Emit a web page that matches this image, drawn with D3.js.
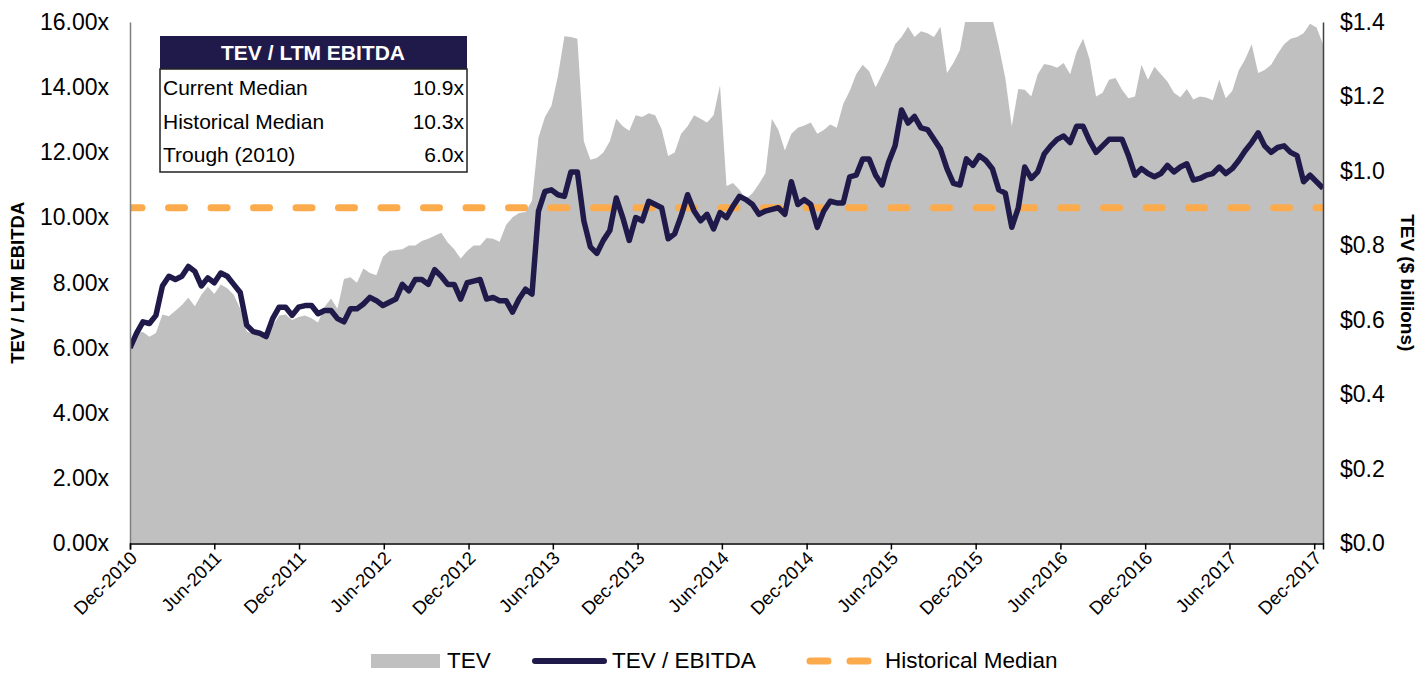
<!DOCTYPE html>
<html>
<head>
<script src="https://cdn.jsdelivr.net/npm/d3@7"></script>
<style>
  body { margin: 0; background: #fff; }
  svg { font-family: Arial, "Liberation Sans", sans-serif; }
</style>
</head>
<body>
<svg width="1420" height="674"></svg>
<script>
// data: one point every 14 days starting 1 Dec 2010
var startDate = new Date(2010, 11, 1);
var stepDays = 14;

var tickLabels = ["Dec-2010", "Jun-2011", "Dec-2011", "Jun-2012", "Dec-2012", "Jun-2013", "Dec-2013",
  "Jun-2014", "Dec-2014", "Jun-2015", "Dec-2015", "Jun-2016", "Dec-2016", "Jun-2017", "Dec-2017"];

var leftTicks = [0, 2, 4, 6, 8, 10, 12, 14, 16];
var rightTicks = [0, 0.2, 0.4, 0.6, 0.8, 1.0, 1.2, 1.4];

var historicalMedian = 10.3;

var tableRows = [
  ["Current Median", "10.9x"],
  ["Historical Median", "10.3x"],
  ["Trough (2010)", "6.0x"]
];

// TEV / LTM EBITDA (x)
var multiple = [
  6.0, 6.45, 6.8, 6.75, 7.0, 7.9, 8.2, 8.1, 8.2, 8.5,
  8.35, 7.9, 8.15, 8.0, 8.3, 8.2, 7.95, 7.7, 6.7, 6.5,
  6.45, 6.35, 6.9, 7.25, 7.25, 7.0, 7.25, 7.3, 7.3, 7.05,
  7.15, 7.15, 6.9, 6.8, 7.2, 7.2, 7.35, 7.55, 7.45, 7.3,
  7.4, 7.5, 7.95, 7.75, 8.1, 8.1, 7.95, 8.4, 8.2, 7.95,
  7.95, 7.5, 8.0, 8.05, 8.1, 7.5, 7.55, 7.45, 7.45, 7.1,
  7.5, 7.8, 7.65, 10.2, 10.8, 10.85, 10.7, 10.65, 11.4, 11.4,
  9.9, 9.1, 8.9, 9.3, 9.6, 10.6, 10.0, 9.3, 10.0, 9.9,
  10.5, 10.4, 10.3, 9.35, 9.5, 10.05, 10.7, 10.2, 9.9, 10.1,
  9.65, 10.15, 10.0, 10.35, 10.65, 10.55, 10.4, 10.1, 10.2, 10.25,
  10.3, 10.1, 11.1, 10.4, 10.55, 10.4, 9.7, 10.2, 10.5, 10.45,
  10.45, 11.25, 11.3, 11.8, 11.8, 11.3, 11.0, 11.7, 12.2, 13.3,
  12.9, 13.1, 12.75, 12.7, 12.4, 12.1, 11.5, 11.05, 11.0, 11.8,
  11.6, 11.9, 11.75, 11.5, 10.85, 10.75, 9.7, 10.3, 11.55, 11.2,
  11.4, 11.95, 12.2, 12.4, 12.5, 12.3, 12.8, 12.8, 12.35, 12.0,
  12.2, 12.4, 12.4, 12.4, 11.9, 11.3, 11.5, 11.35, 11.25, 11.35,
  11.6, 11.4, 11.55, 11.65, 11.15, 11.2, 11.3, 11.35, 11.55, 11.35,
  11.5, 11.75, 12.05, 12.3, 12.6, 12.2, 12.0, 12.15, 12.2, 12.0,
  11.9, 11.1, 11.3, 11.1, 10.9
];

// TEV ($ billions)
var tev = [
  0.53, 0.565, 0.568, 0.555, 0.565, 0.615, 0.61, 0.625, 0.64, 0.66,
  0.637, 0.668, 0.689, 0.67, 0.695, 0.685, 0.668, 0.63, 0.57, 0.562,
  0.556, 0.554, 0.585, 0.612, 0.615, 0.6, 0.608, 0.612, 0.605, 0.593,
  0.635, 0.658, 0.63, 0.71, 0.715, 0.7, 0.738, 0.726, 0.72, 0.77,
  0.785, 0.788, 0.79, 0.8, 0.8, 0.812, 0.818, 0.826, 0.834, 0.808,
  0.79, 0.765, 0.785, 0.8, 0.8, 0.82, 0.818, 0.81, 0.855, 0.876,
  0.887, 0.89, 0.92, 1.09, 1.145, 1.175, 1.255, 1.362, 1.36, 1.355,
  1.08, 1.03, 1.035, 1.05, 1.08, 1.14, 1.12, 1.108, 1.15, 1.145,
  1.155, 1.15, 1.112, 1.04, 1.05, 1.1, 1.12, 1.15, 1.14, 1.13,
  1.15, 1.23, 0.96, 0.968, 0.95, 0.925, 0.94, 0.965, 0.994, 1.14,
  1.11, 1.055, 1.1, 1.116, 1.122, 1.13, 1.1, 1.11, 1.125, 1.116,
  1.18, 1.215, 1.26, 1.285, 1.268, 1.225, 1.26, 1.295, 1.34, 1.36,
  1.387, 1.36, 1.375, 1.37, 1.36, 1.387, 1.263, 1.29, 1.325, 1.42,
  1.43, 1.43, 1.43, 1.41, 1.335, 1.25, 1.12, 1.22, 1.218, 1.2,
  1.26, 1.287, 1.284, 1.277, 1.29, 1.26, 1.32, 1.355, 1.3, 1.2,
  1.21, 1.245, 1.25, 1.218, 1.195, 1.2, 1.285, 1.245, 1.28, 1.26,
  1.24, 1.21, 1.198, 1.22, 1.192, 1.2, 1.197, 1.19, 1.245, 1.195,
  1.215, 1.27, 1.3, 1.34, 1.263, 1.271, 1.285, 1.315, 1.34, 1.355,
  1.36, 1.37, 1.395, 1.385, 1.34
];

var navy = "#1f1a4a";
var orange = "#fbaa4c";
var grey = "#c0c0c0";
var font = "Arial, 'Liberation Sans', sans-serif";

var svg = d3.select("svg");
var margin = { left: 130, right: 1323, top: 22, bottom: 543.5 };

var dates = multiple.map(function(d, i) { return d3.timeDay.offset(startDate, i * stepDays); });
var parseTick = d3.timeParse("%b-%Y");

var x = d3.scaleTime()
  .domain([dates[0], dates[dates.length - 1]])
  .range([margin.left, margin.right]);
var yLeft = d3.scaleLinear().domain([0, 16]).range([margin.bottom, margin.top]);
var yRight = d3.scaleLinear().domain([0, 1.4]).range([margin.bottom, margin.top]);

svg.append("clipPath").attr("id", "plot")
  .append("rect")
  .attr("x", margin.left).attr("y", margin.top)
  .attr("width", margin.right - margin.left)
  .attr("height", margin.bottom - margin.top);

var plot = svg.append("g").attr("clip-path", "url(#plot)");

// TEV area
plot.append("path")
  .datum(tev)
  .attr("fill", grey)
  .attr("d", d3.area()
    .x(function(d, i) { return x(dates[i]); })
    .y0(yRight(0))
    .y1(function(d) { return yRight(d); }));

// historical median
plot.append("line")
  .attr("x1", margin.left).attr("x2", margin.right)
  .attr("y1", yLeft(historicalMedian)).attr("y2", yLeft(historicalMedian))
  .attr("stroke", orange)
  .attr("stroke-width", 7)
  .attr("stroke-linecap", "round")
  .attr("stroke-dasharray", "16,26.5")
  .attr("stroke-dashoffset", 4);

// TEV / EBITDA line
plot.append("path")
  .datum(multiple)
  .attr("fill", "none")
  .attr("stroke", navy)
  .attr("stroke-width", 5.5)
  .attr("stroke-linejoin", "round")
  .attr("d", d3.line()
    .x(function(d, i) { return x(dates[i]); })
    .y(function(d) { return yLeft(d); }));

// axes
var leftAxis = svg.append("g")
  .attr("transform", "translate(" + margin.left + ",0)")
  .call(d3.axisLeft(yLeft).tickValues(leftTicks).tickSize(0).tickPadding(21)
    .tickFormat(function(d) { return d3.format(".2f")(d) + "x"; }));
leftAxis.select(".domain").attr("stroke", "#7f7f7f").attr("stroke-width", 1.5);

var rightAxis = svg.append("g")
  .attr("transform", "translate(" + margin.right + ",0)")
  .call(d3.axisRight(yRight).tickValues(rightTicks).tickSize(0).tickPadding(17)
    .tickFormat(function(d) { return "$" + d3.format(".1f")(d); }));
rightAxis.select(".domain").attr("stroke", "#404040").attr("stroke-width", 1.5);

svg.selectAll(".tick text").attr("font-size", 23).attr("fill", "#000")
  .style("font-family", font);

var bottomAxis = svg.append("g")
  .attr("transform", "translate(0," + margin.bottom + ")")
  .call(d3.axisBottom(x).tickValues(tickLabels.map(parseTick)).tickSize(6)
    .tickFormat(d3.timeFormat("%b-%Y")));
bottomAxis.select(".domain").attr("stroke", "#000").attr("stroke-width", 1.5);
bottomAxis.selectAll(".tick line").attr("stroke", "#000").attr("stroke-width", 1.5);
bottomAxis.selectAll(".tick text")
  .attr("font-size", 18.5)
  .attr("fill", "#000")
  .style("font-family", font)
  .attr("text-anchor", "end")
  .attr("transform", "translate(-4,4) rotate(-45)")
  .attr("x", 0).attr("y", 0).attr("dy", "0.9em").attr("dx", 0);

// axis titles
svg.append("text")
  .attr("transform", "translate(24," + ((margin.top + margin.bottom) / 2) + ") rotate(-90)")
  .attr("text-anchor", "middle")
  .attr("font-size", 18.5).attr("font-weight", "bold")
  .text("TEV / LTM EBITDA");

svg.append("text")
  .attr("transform", "translate(1401," + ((margin.top + margin.bottom) / 2) + ") rotate(90)")
  .attr("text-anchor", "middle")
  .attr("font-size", 19).attr("font-weight", "bold")
  .text("TEV ($ billions)");

// summary table
var table = svg.append("g").attr("transform", "translate(160,36)");
table.append("rect").attr("width", 307).attr("height", 33).attr("fill", navy);
table.append("text")
  .attr("x", 153).attr("y", 17).attr("dy", "0.35em")
  .attr("text-anchor", "middle").attr("fill", "#fff")
  .attr("font-size", 21).attr("font-weight", "bold")
  .text("TEV / LTM EBITDA");
table.append("rect")
  .attr("y", 33).attr("width", 307).attr("height", 103)
  .attr("fill", "#fff").attr("stroke", "#222").attr("stroke-width", 1.5);
table.selectAll(".row")
  .data(tableRows)
  .enter().append("g")
  .attr("class", "row")
  .attr("transform", function(d, i) { return "translate(0," + (52 + i * 33.5) + ")"; })
  .each(function(d) {
    var g = d3.select(this);
    g.append("text").attr("x", 3).attr("dy", "0.35em").attr("font-size", 21).text(d[0]);
    g.append("text").attr("x", 304).attr("dy", "0.35em").attr("font-size", 21)
      .attr("text-anchor", "end").text(d[1]);
  });

// legend
var legend = svg.append("g").attr("transform", "translate(0,660)");
legend.append("rect").attr("x", 371).attr("y", -6).attr("width", 69).attr("height", 14).attr("fill", grey);
legend.append("text").attr("x", 447).attr("dy", "0.35em").attr("font-size", 22.5).text("TEV");
legend.append("line").attr("x1", 535).attr("x2", 604).attr("y1", 1).attr("y2", 1).attr("stroke", navy)
  .attr("stroke-width", 6).attr("stroke-linecap", "round");
legend.append("text").attr("x", 612).attr("dy", "0.35em").attr("font-size", 22.5).text("TEV / EBITDA");
legend.append("line").attr("x1", 810).attr("x2", 868).attr("y1", 1).attr("y2", 1).attr("stroke", orange)
  .attr("stroke-width", 7).attr("stroke-linecap", "round").attr("stroke-dasharray", "18,22");
legend.append("text").attr("x", 885).attr("dy", "0.35em").attr("font-size", 22.5).text("Historical Median");
</script>
</body>
</html>
